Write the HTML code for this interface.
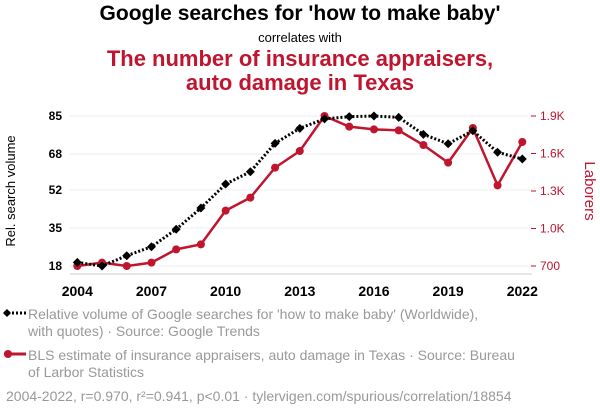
<!DOCTYPE html>
<html><head><meta charset="utf-8"><style>
body{margin:0;width:600px;height:414px;background:#fff;font-family:"Liberation Sans",sans-serif;position:relative;overflow:hidden}
.t{position:absolute;left:0;width:600px;text-align:center}
.leg{position:absolute;left:28px;font-size:14px;color:#999;line-height:17px}
</style></head><body>
<div class="t" style="top:2px;font-size:21px;font-weight:bold;color:#000">Google searches for 'how to make baby'</div>
<div class="t" style="top:30px;font-size:13px;color:#000">correlates with</div>
<div class="t" style="top:47px;font-size:22px;font-weight:bold;color:#c0152f;line-height:24px">The number of insurance appraisers,<br>auto damage in Texas</div>
<svg id="c" width="600" height="414" style="position:absolute;left:0;top:0"></svg>
<svg width="26" height="10" style="position:absolute;left:2px;top:308px"><line x1="2" y1="5" x2="24" y2="5" stroke="#000" stroke-width="3" stroke-dasharray="2,2"/><path d="M5 1L9 5L5 9L1 5Z" fill="#000"/></svg>
<div class="leg" style="top:306px">Relative volume of Google searches for 'how to make baby' (Worldwide),<br>with quotes) · Source: Google Trends</div>
<svg width="26" height="10" style="position:absolute;left:2px;top:349px"><line x1="2" y1="5" x2="24" y2="5" stroke="#c0152f" stroke-width="3"/><circle cx="6" cy="5" r="4" fill="#c0152f"/></svg>
<div class="leg" style="top:347px">BLS estimate of insurance appraisers, auto damage in Texas · Source: Bureau<br>of Larbor Statistics</div>
<div class="leg" style="top:388px;left:6px">2004-2022, r=0.970, r²=0.941, p&lt;0.01 · tylervigen.com/spurious/correlation/18854</div>
<script>
const years=[2004,2005,2006,2007,2008,2009,2010,2011,2012,2013,2014,2015,2016,2017,2018,2019,2020,2021,2022];
const searches=[19.6,18,22.6,26.6,34.4,43.9,54.6,60.1,72.8,79.5,83.7,84.7,85,84.4,76.8,72.6,78.4,68.8,65.8];
const appraisers=[700,727,700,727,833,873,1143,1247,1487,1620,1900,1815,1793,1785,1668,1527,1804,1345,1692];
const leftTicks=[18,35,52,68,85];
const rightTicks=[700,1000,1300,1600,1900];
const rightLabels=["700","1.0K","1.3K","1.6K","1.9K"];
const xTicks=[2004,2007,2010,2013,2016,2019,2022];
const NS="http://www.w3.org/2000/svg",svg=document.getElementById('c');
const X=y=>77.3+(y-2004)*(445/18);
const YL=v=>266-(v-18)*150/67;
const YR=v=>266-(v-700)*150/1200;
function mk(t,a,p){const e=document.createElementNS(NS,t);for(const k in a)e.setAttribute(k,a[k]);(p||svg).appendChild(e);return e;}
leftTicks.forEach((v,i)=>{
 const g=mk('line',{x1:70,x2:532,y1:YL(v),y2:YL(v),stroke:'#eee'});
 
 
 const t=mk('text',{x:62,y:YL(v)+4,'text-anchor':'end','font-size':12,'font-weight':'bold',fill:'#000'});t.textContent=v;
 
 
});
rightTicks.forEach((v,i)=>{
 mk('line',{x1:531,x2:536,y1:YR(v),y2:YR(v),stroke:'#c0152f'});
 const t=mk('text',{x:540,y:YR(v)+4,'font-size':12,fill:'#c0152f'});t.textContent=rightLabels[i];
 
 
});
mk('line',{x1:70,x2:532,y1:274,y2:274,stroke:'#ccc'});
xTicks.forEach(y=>{
 const t=mk('text',{x:X(y),y:296,'text-anchor':'middle','font-size':14,'font-weight':'bold',fill:'#000'});t.textContent=y;
 
 
});
let ya=mk('text',{transform:'translate(15,191) rotate(-90)','text-anchor':'middle','font-size':13,fill:'#000'});ya.textContent='Rel. search volume';


let yb=mk('text',{transform:'translate(585,191) rotate(90)','text-anchor':'middle','font-size':15,fill:'#c0152f'});yb.textContent='Laborers';


const rl=mk('polyline',{points:years.map((y,i)=>X(y)+','+YR(appraisers[i])).join(' '),fill:'none',stroke:'#c0152f','stroke-width':2.5});


years.forEach((y,i)=>{const c=mk('circle',{cx:X(y),cy:YR(appraisers[i]),r:4,fill:'#c0152f'});
 
 });
const bl=mk('polyline',{points:years.map((y,i)=>X(y)+','+YL(searches[i])).join(' '),fill:'none',stroke:'#000','stroke-width':3,'stroke-dasharray':'2,2'});


years.forEach((y,i)=>{const x=X(y),v=YL(searches[i]);const p=mk('path',{d:`M${x} ${v-4.5}L${x+4.5} ${v}L${x} ${v+4.5}L${x-4.5} ${v}Z`,fill:'#000'});
 
 });
</script>
</body></html>
